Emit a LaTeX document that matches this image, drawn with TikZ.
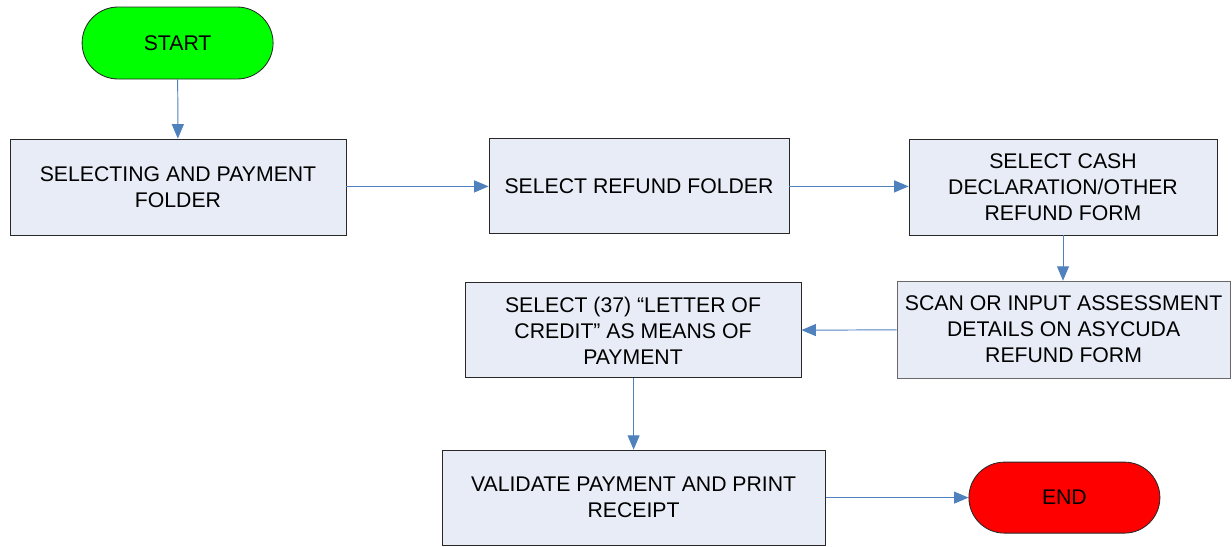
\documentclass[tikz,border=0pt]{standalone}
\usepackage{fontspec}
\setmainfont{Liberation Sans}
\usetikzlibrary{arrows.meta,shapes.misc,positioning}
\definecolor{flowblue}{RGB}{79,129,189}
\definecolor{boxfill}{RGB}{231,236,246}
\definecolor{boxedge}{RGB}{40,40,40}
\definecolor{startgreen}{RGB}{0,255,0}
\definecolor{endred}{RGB}{255,0,0}

\begin{document}
\begin{tikzpicture}[
  step box/.style={
    draw=boxedge,
    fill=boxfill,
    line width=0.6pt,
    inner sep=0pt,
    align=center,
    font=\fontsize{15.1}{18.5}\selectfont
  },
  terminal/.style={
    rounded rectangle,
    draw=boxedge,
    line width=0.6pt,
    minimum width=47.75mm,
    minimum height=18mm,
    inner sep=0pt,
    font=\fontsize{15.1}{18}\selectfont
  },
  line/.style={-{Triangle[length=3.6mm,width=3mm]}, line width=0.7pt, draw=flowblue}
]
\useasboundingbox (0,0) rectangle (308mm,-136.5mm);

% ===== Terminals =====
\node[terminal, fill=startgreen] (start) at (44.4mm,-10.75mm) {START};
\node[terminal, fill=endred, minimum height=17.75mm] (finish) at (266.1mm,-124.4mm) {END};

% ===== Top row =====
\node[step box, minimum width=84mm, minimum height=24mm] (payfolder) at (44.5mm,-46.75mm)
  {SELECTING AND PAYMENT\\FOLDER};
\node[step box, minimum width=75mm, minimum height=23.75mm] (refund) at (159.75mm,-46.6mm)
  {SELECT REFUND FOLDER};
\node[step box, minimum width=77mm, minimum height=24mm] (cashdecl) at (265.75mm,-46.75mm)
  {SELECT CASH\\DECLARATION/OTHER\\REFUND FORM};

% ===== Middle row =====
\node[step box, minimum width=83.25mm, minimum height=24.25mm, draw=boxedge!70] (scan) at (265.9mm,-82.4mm)
  {SCAN OR INPUT ASSESSMENT\\DETAILS ON ASYCUDA\\REFUND FORM};
\node[step box, minimum width=84mm, minimum height=23.75mm] (credit) at (158.25mm,-82.6mm)
  {SELECT (37) “LETTER OF\\CREDIT” AS MEANS OF\\PAYMENT};

% ===== Bottom row =====
\node[step box, minimum width=95.75mm, minimum height=23.75mm] (validate) at (158.4mm,-124.4mm)
  {VALIDATE PAYMENT AND PRINT\\RECEIPT};

% Connectors
\draw[line] (start) -- (payfolder);
\draw[line] (payfolder.east |- refund) -- (refund);
\draw[line] (refund) -- (cashdecl.west |- refund);
\draw[line] (cashdecl) -- (cashdecl |- scan.north);
\draw[line] (scan) -- (credit);
\draw[line] (credit.south -| validate) -- (validate);
\draw[line] (validate) -- (finish);

\end{tikzpicture}
\end{document}
